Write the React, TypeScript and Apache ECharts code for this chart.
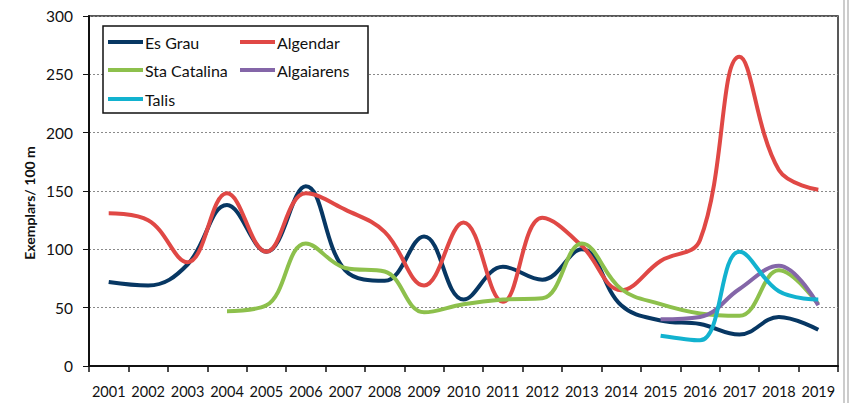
import React, { useEffect, useRef } from "react";
import * as echarts from "echarts";

const years = ["2001","2002","2003","2004","2005","2006","2007","2008","2009","2010","2011","2012","2013","2014","2015","2016","2017","2018","2019"];
const esGrau = [72, 69, 87, 138, 98, 154, 82, 73, 111, 57, 85, 74, 100, 52, 39, 36, 27, 42, 31];
const algendar = [131, 125, 89, 148, 98, 148, 134, 115, 69, 123, 55, 127, 103, 65, 90, 108, 265, 168, 151];
const staCatalina = [null, null, null, 47, 52, 105, 84, 81, 46, 53, 57, 58, 105, 66, 53, 45, 43, 82, 53];
const algaiarens = [null, null, null, null, null, null, null, null, null, null, null, null, null, null, 40, 42, 66, 86, 52];
const talis = [null, null, null, null, null, null, null, null, null, null, null, null, null, null, 26, 22, 98, 64, 57];
const yTicks = { min: 0, max: 300, interval: 50 };

const seriesNames = ["Es Grau", "Algendar", "Sta Catalina", "Algaiarens", "Talis"];
const seriesData = [esGrau, algendar, staCatalina, algaiarens, talis];
const colors = ["#073763", "#E04845", "#8DC04C", "#8466A8", "#12B2CF"];

const FONT = "Lato, 'Open Sans', sans-serif";

export default function App() {
  const ref = useRef<HTMLDivElement>(null);
  useEffect(() => {
    if (!ref.current) return;
    const chart = echarts.init(ref.current, null, { renderer: "svg" });
    const legendPos = [
      { left: 108, top: 33 },
      { left: 240, top: 33 },
      { left: 108, top: 61 },
      { left: 240, top: 61 },
      { left: 108, top: 90 },
    ];
    chart.setOption({
      animation: false,
      backgroundColor: "#ffffff",
      grid: { left: 89, right: 16, top: 16, bottom: 37, show: true, borderColor: "#222", borderWidth: 1.5, backgroundColor: "transparent" },
      xAxis: {
        type: "category",
        data: years,
        boundaryGap: true,
        axisLine: { lineStyle: { color: "#111", width: 2 } },
        axisTick: { show: true, length: 6, inside: false, alignWithLabel: false, lineStyle: { color: "#111", width: 1.5 } },
        axisLabel: { interval: 0, color: "#111", fontSize: 14.5, fontFamily: FONT, margin: 18 },
        splitLine: { show: false },
      },
      yAxis: {
        type: "value",
        min: yTicks.min,
        max: yTicks.max,
        interval: yTicks.interval,
        axisLine: { show: true, lineStyle: { color: "#111", width: 2 } },
        axisTick: { show: true, length: 6, lineStyle: { color: "#111", width: 1 } },
        axisLabel: { color: "#111", fontSize: 15.5, fontFamily: FONT, margin: 16 },
        splitLine: { show: true, lineStyle: { color: "#8a8a8a", type: [2, 2], width: 1 } },
      },
      legend: seriesNames.map((n, i) => ({
        data: [n],
        left: legendPos[i].left,
        top: legendPos[i].top,
        padding: 0,
        icon: "rect",
        itemWidth: 35,
        itemHeight: 4,
        itemGap: 0,
        selectedMode: false,
        textStyle: { color: "#111", fontSize: 16, fontFamily: FONT, lineHeight: 18, padding: [0, 0, 0, -3] },
      })),
      graphic: [
        { type: "rect", shape: { x: 103, y: 26, width: 265, height: 87 }, style: { fill: "#fff", stroke: "#111", lineWidth: 1.5 }, z: 3, zlevel: 0 },
        { type: "text", x: 29, y: 203, rotation: Math.PI / 2, style: { text: "Exemplars/ 100 m", fill: "#111", font: "bold 14px " + FONT, align: "center", verticalAlign: "middle" } },
        { type: "line", shape: { x1: 844, y1: 0, x2: 844, y2: 403 }, style: { stroke: "#999", lineWidth: 1 } },
        { type: "line", shape: { x1: 848, y1: 0, x2: 848, y2: 403 }, style: { stroke: "#999", lineWidth: 1 } },
      ],
      series: seriesNames.map((n, i) => ({
        name: n,
        type: "line",
        data: seriesData[i],
        smooth: 0.4,
        symbol: "none",
        connectNulls: false,
        lineStyle: { color: colors[i], width: 4 },
        itemStyle: { color: colors[i] },
        z: 2,
      })),
    });
    return () => chart.dispose();
  }, []);
  return <div ref={ref} style={{ width: 854, height: 403, position: "absolute", left: 0, top: 0 }} />;
}
